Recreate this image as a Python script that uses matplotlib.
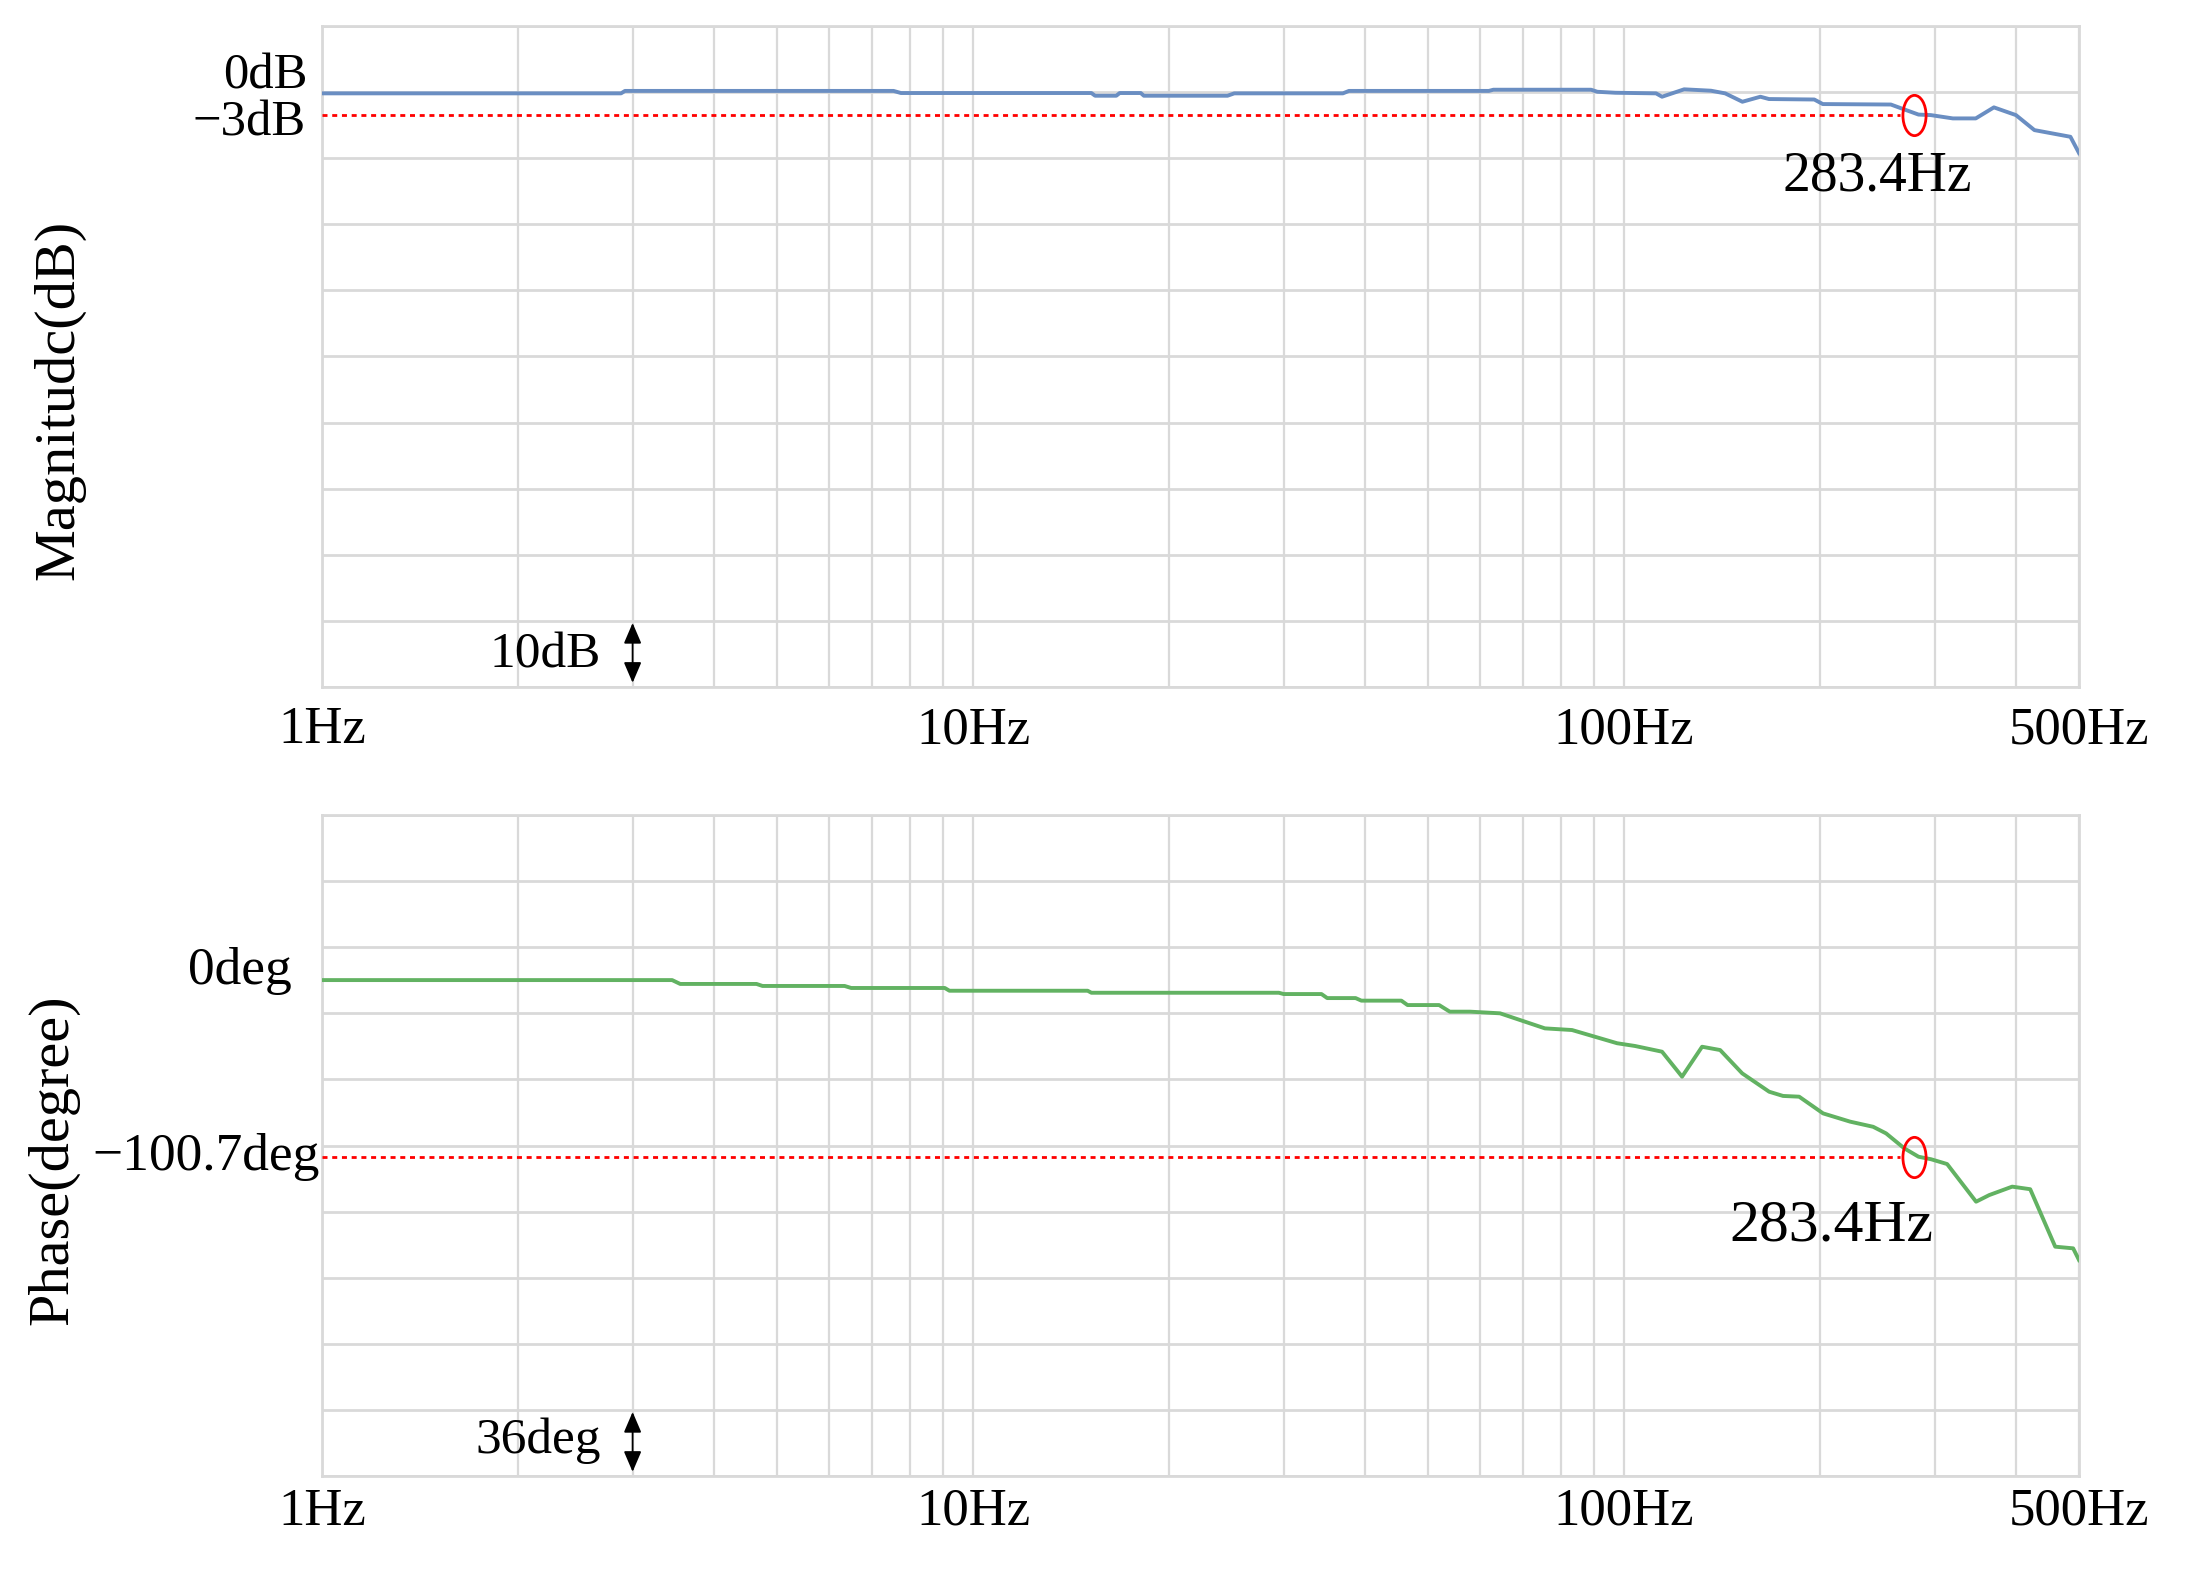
import numpy as np
import matplotlib
matplotlib.use("Agg")
import matplotlib.pyplot as plt
from matplotlib.path import Path
from matplotlib.transforms import Affine2D, blended_transform_factory
from matplotlib.ticker import FixedLocator, NullFormatter

# ---------------- data ----------------
mag_freq = [1.0, 2.88, 2.92, 7.55, 7.75, 15.2, 15.4, 16.6, 16.8, 18.1, 18.3, 24.6,
            25.2, 37.0, 37.8, 62.0, 63.0, 89.0, 91.0, 97.0, 112.0, 114.4, 123.7,
            136.0, 143.0, 152.0, 162.0, 167.0, 196.0, 202.0, 257.0, 266.0, 283.4,
            296.0, 320.0, 347.0, 370.0, 400.0, 427.0, 485.0, 500.0]
mag_db = [0.21, 0.21, 0.58, 0.58, 0.26, 0.26, -0.15, -0.15, 0.26, 0.26, -0.15, -0.15,
          0.21, 0.21, 0.58, 0.58, 0.76, 0.76, 0.45, 0.30, 0.21, -0.30, 0.82,
          0.61, 0.21, -1.06, -0.30, -0.65, -0.72, -1.41, -1.48, -2.02, -3.0,
          -3.08, -3.58, -3.58, -1.91, -3.08, -5.35, -6.36, -8.83]

phase_freq = [1.0, 3.45, 3.55, 4.65, 4.75, 6.35, 6.5, 9.05, 9.2, 15.0, 15.2, 29.5,
              30.0, 34.3, 35.0, 38.7, 39.5, 45.5, 46.5, 52.0, 54.0, 58.0, 64.5,
              75.6, 83.2, 97.6, 104.0, 114.4, 122.8, 131.8, 140.5, 151.9, 167.1,
              175.5, 185.8, 202.2, 222.5, 241.4, 252.7, 269.4, 283.4, 296.4, 313.6,
              347.4, 363.9, 394.7, 420.7, 459.6, 489.7, 500.0]
phase_deg = [-4.5, -4.5, -6.6, -6.6, -7.7, -7.7, -8.8, -8.8, -10.3, -10.3, -11.4, -11.4,
             -12.1, -12.1, -14.3, -14.3, -15.7, -15.7, -18.1, -18.1, -21.7, -21.7, -22.6,
             -30.8, -31.7, -38.9, -40.4, -43.5, -57.1, -40.8, -42.6, -55.3, -65.3,
             -67.6, -68.0, -77.1, -81.6, -84.4, -88.0, -96.1, -100.7, -102.1, -104.7,
             -125.2, -121.6, -117.0, -118.4, -149.7, -150.6, -157.0]

x_ticks = [1, 10, 100, 500]
x_tick_labels = ["1Hz", "10Hz", "100Hz", "500Hz"]
x_minor = [2, 3, 4, 5, 6, 7, 8, 9, 20, 30, 40, 50, 60, 70, 80, 90, 200, 300, 400]

cutoff_freq = 283.4
cutoff_label = "283.4Hz"
cutoff_db = -3.0
cutoff_phase = -100.7

mag_ref_labels = ["0dB", "\u22123dB"]
mag_ref_values = [0.0, -3.0]
phase_ref_labels = ["0deg", "\u2212100.7deg"]
phase_ref_values = [0.0, -100.7]

mag_div = 10.0
phase_div = 36.0
mag_div_label = "10dB"
phase_div_label = "36deg"
scale_freq = 3

# ---------------- style ----------------
plt.rcParams['font.family'] = ['Liberation Serif', 'DejaVu Serif']
GRID = '#d9d9d9'
BLUE = '#6a8ec2'
GREEN = '#62b262'

fig = plt.figure(figsize=(22.04, 15.76), dpi=100)
ax1 = fig.add_axes([0.1461, 0.5641, 0.7972, 0.4194])
ax2 = fig.add_axes([0.1461, 0.06345, 0.7972, 0.4194])

MAG_TOP = 10.4
PHASE_TOP = 85.4


def style(ax, top, div, pad):
    ax.set_xscale('log')
    ax.set_xlim(1, 500)
    ax.set_ylim(top - 10 * div, top)
    ax.xaxis.set_major_locator(FixedLocator(x_ticks))
    ax.set_xticklabels(x_tick_labels)
    ax.xaxis.set_minor_locator(FixedLocator(x_minor))
    ax.xaxis.set_minor_formatter(NullFormatter())
    ax.yaxis.set_major_locator(FixedLocator(top - div * np.arange(11)))
    ax.yaxis.set_major_formatter(NullFormatter())
    ax.tick_params(which='both', length=0)
    ax.tick_params(axis='x', which='major', labelsize=38, pad=pad)
    ax.grid(True, which='major', axis='y', color=GRID, lw=2.0)
    ax.grid(True, which='both', axis='x', color=GRID, lw=1.6)
    for s in ax.spines.values():
        s.set_color(GRID)
        s.set_linewidth(2.0)
    ax.set_axisbelow(True)


style(ax1, MAG_TOP, mag_div, 14)
style(ax2, PHASE_TOP, phase_div, 8.5)

ax1.plot(mag_freq, mag_db, color=BLUE, lw=2.8, zorder=3)
ax2.plot(phase_freq, phase_deg, color=GREEN, lw=2.8, zorder=3)

ell = Path.unit_circle().transformed(Affine2D().scale(0.575, 1.0))

for ax, yv in ((ax1, cutoff_db), (ax2, cutoff_phase)):
    ax.plot([1, cutoff_freq * 0.935], [yv, yv], color='red', lw=2.0,
            dashes=(1.8, 1.7), zorder=4)
    ax.plot([cutoff_freq * 0.985], [yv], marker=ell, ms=29, mfc='none', mec='red',
            mew=2.0, ls='none', zorder=5)

ax1.annotate(cutoff_label, xy=(cutoff_freq, cutoff_db), xytext=(-30, -55),
             textcoords='offset points', ha='center', va='baseline', fontsize=40)
ax2.annotate(cutoff_label, xy=(cutoff_freq, cutoff_phase), xytext=(-63, -60),
             textcoords='offset points', ha='center', va='baseline', fontsize=43)

# reference labels on left
t1 = blended_transform_factory(ax1.transAxes, ax1.transData)
offs1 = [(-10, 4.8), (-11.5, -14.8)]
for lab, v, o in zip(mag_ref_labels, mag_ref_values, offs1):
    ax1.annotate(lab, xy=(0, v), xycoords=t1, xytext=o, textcoords='offset points',
                 ha='right', va='baseline', fontsize=36.5, annotation_clip=False)

t2 = blended_transform_factory(ax2.transAxes, ax2.transData)
offs2 = [(-22, -9), (-1.5, -9.6)]
for lab, v, o in zip(phase_ref_labels, phase_ref_values, offs2):
    ax2.annotate(lab, xy=(0, v), xycoords=t2, xytext=o, textcoords='offset points',
                 ha='right', va='baseline', fontsize=38.5, annotation_clip=False)

# scale arrows
for ax, top, div, lab, dy in ((ax1, MAG_TOP, mag_div, mag_div_label, -10),
                              (ax2, PHASE_TOP, phase_div, phase_div_label, -7)):
    y_hi = top - 9 * div
    y_lo = top - 10 * div
    ax.annotate('', xy=(scale_freq, y_lo), xytext=(scale_freq, y_hi),
                arrowprops=dict(arrowstyle='<|-|>,head_length=0.7,head_width=0.3',
                                color='black', lw=1.3, shrinkA=1.5, shrinkB=3,
                                mutation_scale=18), zorder=6, annotation_clip=False)
    ax.annotate(lab, xy=(scale_freq, (y_hi + y_lo) / 2), xytext=(-23, dy),
                textcoords='offset points', ha='right', va='baseline', fontsize=37)

fig.text(0.0268, 0.7462, "Magnitudc(dB)", rotation=90, ha='center', va='center',
         fontsize=42)
fig.text(0.024, 0.264, "Phase(degree)", rotation=90, ha='center', va='center',
         fontsize=42)

fig.savefig("out.png", dpi=100)
